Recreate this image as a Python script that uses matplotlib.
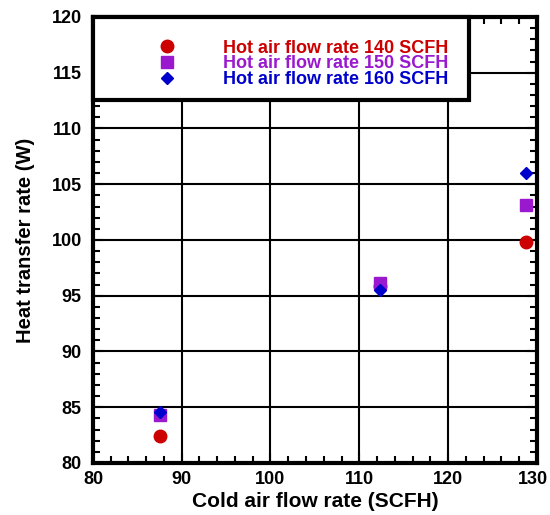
import matplotlib.pyplot as plt
from matplotlib.patches import Rectangle
from matplotlib.ticker import MultipleLocator
from matplotlib.transforms import ScaledTranslation

plt.rcParams['font.family'] = ['Liberation Sans', 'DejaVu Sans']
plt.rcParams['font.weight'] = 'bold'

# cold air flow rate (SCFH)
cold_flow = [87.5, 112.3, 128.8]
# heat transfer rate (W) for each hot air flow rate
q_140 = [82.4, 95.9, 99.8]
q_150 = [84.3, 96.1, 103.1]
q_160 = [84.6, 95.5, 106.0]
labels = ['Hot air flow rate 140 SCFH', 'Hot air flow rate 150 SCFH',
          'Hot air flow rate 160 SCFH']
colors = ['#cc0000', '#9a19cf', '#0000cc']

fig = plt.figure(figsize=(5.5, 5.15), dpi=100)
ax = fig.add_axes([0.169, 0.101, 0.807, 0.866])

ax.plot(cold_flow, q_140, 'o', color=colors[0], markersize=9, label=labels[0], zorder=3)
ax.plot(cold_flow, q_150, 's', color=colors[1], markersize=8.5, label=labels[1], zorder=3)
ax.plot(cold_flow, q_160, 'D', color=colors[2], markersize=6.5, label=labels[2], zorder=3)

ax.set_xlim(80, 130)
ax.set_ylim(80, 120)
ax.set_xticks([80, 90, 100, 110, 120, 130])
ax.xaxis.set_minor_locator(MultipleLocator(2))
ax.yaxis.set_major_locator(MultipleLocator(5))
ax.yaxis.set_minor_locator(MultipleLocator(1))
ax.grid(True, which='major', color='black', linewidth=1.5)
ax.set_axisbelow(True)
ax.tick_params(which='both', direction='in', top=True, right=True,
               labelsize=13, width=1.5, color='black')
ax.tick_params(which='major', length=7)
ax.tick_params(which='minor', length=5)
ax.tick_params(axis='y', which='major', pad=8)
ax.tick_params(axis='x', which='major', pad=6)
for s in ax.spines.values():
    s.set_linewidth(3)

# keep the last x label inside the figure
fig.canvas.draw()
for lab in ax.get_xticklabels():
    if lab.get_text() == '130':
        lab.set_transform(lab.get_transform() + ScaledTranslation(-2.5 / 72, 0, fig.dpi_scale_trans))

ax.set_xlabel('Cold air flow rate (SCFH)', fontsize=15, fontweight='bold', labelpad=3)
ax.set_ylabel('Heat transfer rate (W)', fontsize=14.5, fontweight='bold', labelpad=12)

# legend box
ax.add_patch(Rectangle((0, 0.814), 0.847, 0.186, transform=ax.transAxes,
                       facecolor='white', edgecolor='black', linewidth=3,
                       zorder=4, clip_on=False))
leg = ax.legend(loc='center', bbox_to_anchor=(0.473, 0.895), frameon=False,
                fontsize=13, handletextpad=2.6, labelspacing=-0.08,
                borderpad=0, handlelength=1.0)
leg.set_zorder(5)
for t, c in zip(leg.get_texts(), colors):
    t.set_color(c)
    t.set_fontweight('bold')

fig.savefig('out.png', dpi=100)
